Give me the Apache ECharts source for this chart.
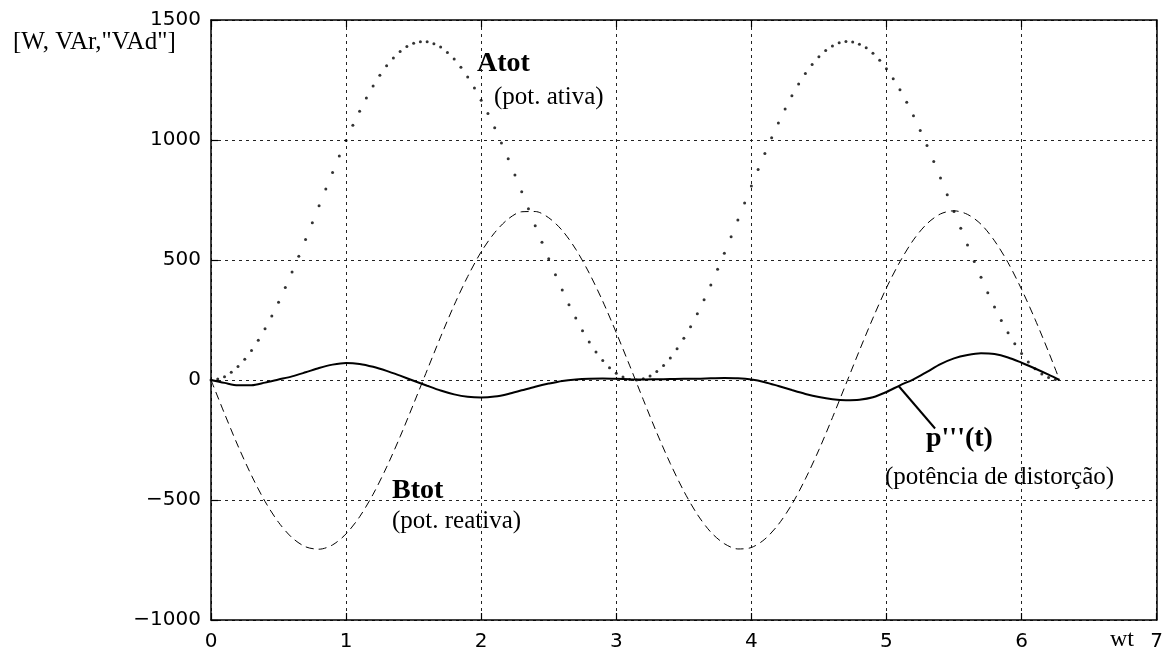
<!DOCTYPE html>
<html>
<head>
<meta charset="utf-8">
<script src="https://cdn.jsdelivr.net/npm/echarts@6/dist/echarts.min.js"></script>
<style>
  html, body { margin: 0; padding: 0; background: #fff; }
  #chart { width: 1166px; height: 652px; }
</style>
</head>
<body>
<div id="chart"></div>
<script>
// Sample instants (wt, rad) of the active power trace, drawn as dots
const tA = [
  0, 0.05, 0.1, 0.15, 0.2, 0.25, 0.3, 0.35, 0.4, 0.45,
  0.5, 0.55, 0.6, 0.65, 0.7, 0.75, 0.8, 0.85, 0.9, 0.95,
  1.0, 1.05, 1.1, 1.15, 1.2, 1.25, 1.3, 1.35, 1.4, 1.45,
  1.5, 1.55, 1.6, 1.65, 1.7, 1.75, 1.8, 1.85, 1.9, 1.95,
  2.0, 2.05, 2.1, 2.15, 2.2, 2.25, 2.3, 2.35, 2.4, 2.45,
  2.5, 2.55, 2.6, 2.65, 2.7, 2.75, 2.8, 2.85, 2.9, 2.95,
  3.0, 3.05, 3.1, 3.15, 3.2, 3.25, 3.3, 3.35, 3.4, 3.45,
  3.5, 3.55, 3.6, 3.65, 3.7, 3.75, 3.8, 3.85, 3.9, 3.95,
  4.0, 4.05, 4.1, 4.15, 4.2, 4.25, 4.3, 4.35, 4.4, 4.45,
  4.5, 4.55, 4.6, 4.65, 4.7, 4.75, 4.8, 4.85, 4.9, 4.95,
  5.0, 5.05, 5.1, 5.15, 5.2, 5.25, 5.3, 5.35, 5.4, 5.45,
  5.5, 5.55, 5.6, 5.65, 5.7, 5.75, 5.8, 5.85, 5.9, 5.95,
  6.0, 6.05, 6.1, 6.15, 6.2, 6.25
];
// Atot (pot. ativa) [W]
const atot = [
  0, 4, 14, 32, 56, 86, 123, 166, 214, 267,
  324, 385, 450, 516, 585, 655, 726, 796, 865, 933,
  998, 1061, 1120, 1175, 1225, 1270, 1309, 1342, 1369, 1390,
  1403, 1409, 1409, 1401, 1387, 1365, 1337, 1303, 1263, 1217,
  1166, 1110, 1051, 988, 922, 854, 784, 714, 643, 574,
  505, 439, 375, 314, 258, 205, 158, 117, 81, 51,
  28, 12, 2, 0, 5, 17, 35, 60, 92, 130,
  174, 222, 276, 334, 396, 461, 528, 597, 667, 737,
  808, 877, 944, 1009, 1071, 1129, 1184, 1233, 1277, 1315,
  1347, 1373, 1392, 1405, 1410, 1408, 1399, 1384, 1361, 1332,
  1297, 1255, 1209, 1157, 1101, 1040, 977, 910, 842, 772,
  702, 632, 562, 494, 428, 364, 304, 248, 197, 151,
  110, 75, 47, 25, 10, 2
];

// Sample instants of the two continuous traces
const tL = [
  0, 0.1, 0.2, 0.3, 0.4, 0.5, 0.6, 0.7, 0.8, 0.9,
  1.0, 1.1, 1.2, 1.3, 1.4, 1.5, 1.6, 1.7, 1.8, 1.9,
  2.0, 2.1, 2.2, 2.3, 2.4, 2.5, 2.6, 2.7, 2.8, 2.9,
  3.0, 3.1, 3.2, 3.3, 3.4, 3.5, 3.6, 3.7, 3.8, 3.9,
  4.0, 4.1, 4.2, 4.3, 4.4, 4.5, 4.6, 4.7, 4.8, 4.9,
  5.0, 5.1, 5.2, 5.3, 5.4, 5.5, 5.6, 5.7, 5.8, 5.9,
  6.0, 6.1, 6.2, 6.28
];
// Btot (pot. reativa) [VAr]
const btot = [
  0, -140, -275, -398, -506, -593, -657, -695, -705, -687,
  -641, -570, -476, -363, -236, -99, 41, 180, 312, 431,
  534, 614, 671, 701, 702, 676, 623, 545, 445, 328,
  197, 59, -82, -220, -348, -463, -560, -634, -682, -704,
  -698, -663, -602, -518, -412, -291, -157, -17, 123, 258,
  384, 493, 584, 651, 692, 705, 690, 649, 580, 489,
  378, 253, 117, 2
];
// p'''(t) (potência de distorção) ["VAd"]
const pDist = [
  0, -12, -22, -22, -11, 2, 15, 32, 50, 64,
  71, 67, 55, 38, 18, -3, -24, -44, -60, -70,
  -73, -69, -58, -43, -28, -15, -4, 2, 5, 6,
  5, 3, 2, 3, 4, 5, 5, 7, 8, 7,
  2, -9, -25, -42, -58, -71, -80, -84, -82, -72,
  -50, -22, 3, 34, 66, 90, 104, 111, 108, 94,
  72, 48, 22, 0
];

const serif = '"Liberation Serif", "Times New Roman", serif';
const sans = '"DejaVu Sans", sans-serif';

const chart = echarts.init(document.getElementById('chart'));

const gridLine = { show: true, lineStyle: { color: '#222', width: 1, type: [3, 4] } };
const frame = { show: true, onZero: false, lineStyle: { color: '#000', width: 1.5 } };
const tickIn = { show: true, inside: true, length: 7, lineStyle: { color: '#000', width: 1.2 } };

const minusFmt = v => (v < 0 ? '\u2212' + Math.abs(v) : String(v));

chart.setOption({
  animation: false,
  backgroundColor: '#fff',
  grid: { left: 211, right: 8, top: 20, bottom: 31, containLabel: false },
  xAxis: [
    {
      type: 'value', position: 'bottom', min: 0, max: 7, interval: 1,
      axisLine: frame, axisTick: tickIn, splitLine: gridLine,
      axisLabel: { color: '#000', fontFamily: sans, fontSize: 20, margin: 12 }
    },
    {
      type: 'value', position: 'top', min: 0, max: 7, interval: 1,
      axisLine: frame, axisTick: tickIn, splitLine: { show: false },
      axisLabel: { show: false }
    }
  ],
  yAxis: [
    {
      type: 'value', position: 'left', min: -1000, max: 1500, interval: 500,
      axisLine: frame, axisTick: tickIn, splitLine: gridLine,
      axisLabel: { color: '#000', fontFamily: sans, fontSize: 20, margin: 10, formatter: minusFmt }
    },
    {
      type: 'value', position: 'right', min: -1000, max: 1500, interval: 500,
      axisLine: frame, axisTick: { show: false }, splitLine: { show: false },
      axisLabel: { show: false }
    }
  ],
  series: [
    {
      name: 'Atot', type: 'scatter',
      data: tA.map((t, i) => [t, atot[i]]),
      symbol: 'circle', symbolSize: 3,
      itemStyle: { color: '#000' },
      z: 3
    },
    {
      name: 'Btot', type: 'line', smooth: 0.3, showSymbol: false,
      data: tL.map((t, i) => [t, btot[i]]),
      lineStyle: { color: '#000', width: 1, type: [8, 5] },
      z: 2
    },
    {
      name: "p'''(t)", type: 'line', smooth: 0.3, showSymbol: false,
      data: tL.map((t, i) => [t, pDist[i]]),
      lineStyle: { color: '#000', width: 2 },
      z: 4,
      markLine: {
        silent: true, symbol: ['none', 'none'], label: { show: false },
        lineStyle: { color: '#000', width: 2, type: 'solid' },
        data: [[{ coord: [5.09, -25] }, { coord: [5.36, -202] }]]
      }
    }
  ],
  graphic: [
    { type: 'text', left: 13, top: 30, style: { text: '[W, VAr,"VAd"]', font: '25px ' + serif, fill: '#000' } },
    { type: 'text', left: 477, top: 50, style: { text: 'Atot', font: 'bold 28px ' + serif, fill: '#000' } },
    { type: 'text', left: 494, top: 85, style: { text: '(pot. ativa)', font: '25px ' + serif, fill: '#000' } },
    { type: 'text', left: 392, top: 477, style: { text: 'Btot', font: 'bold 28px ' + serif, fill: '#000' } },
    { type: 'text', left: 392, top: 509, style: { text: '(pot. reativa)', font: '25px ' + serif, fill: '#000' } },
    { type: 'text', left: 926, top: 425, style: { text: "p'''(t)", font: 'bold 28px ' + serif, fill: '#000' } },
    { type: 'text', left: 885, top: 465, style: { text: '(potência de distorção)', font: '25px ' + serif, fill: '#000' } },
    { type: 'text', left: 1110, top: 628, style: { text: 'wt', font: '24px ' + serif, fill: '#000' } }
  ]
});
</script>
</body>
</html>
